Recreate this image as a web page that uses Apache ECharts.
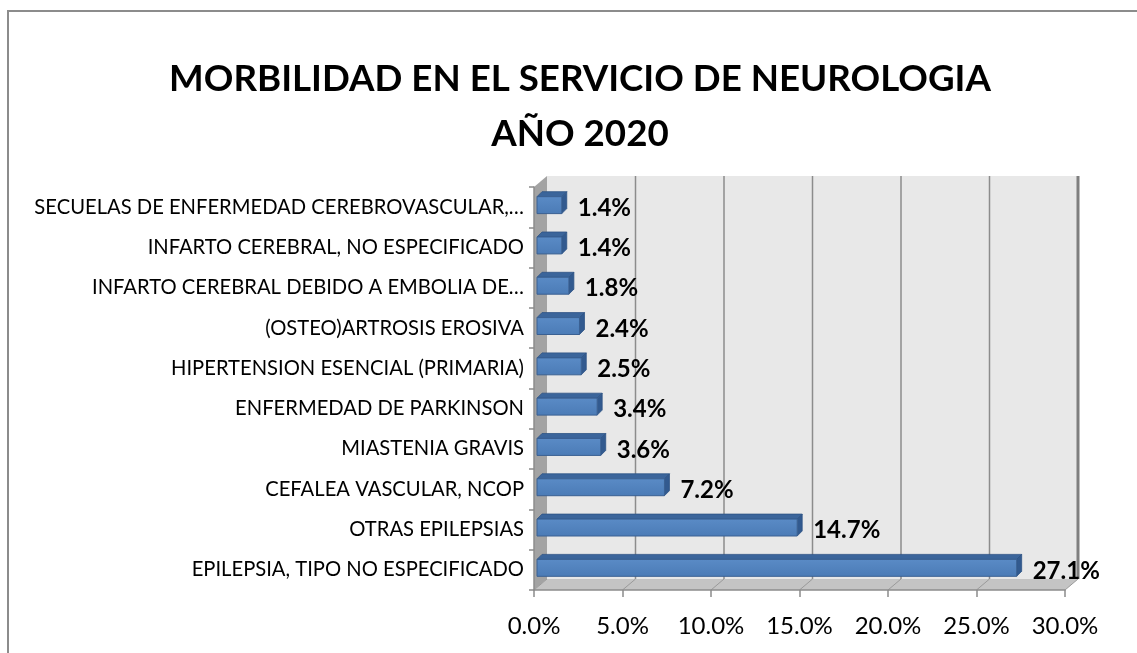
<!DOCTYPE html>
<html>
<head>
<meta charset="utf-8">
<script src="https://cdn.jsdelivr.net/npm/echarts@6.0.0/dist/echarts.min.js"></script>
<style>
  html, body { margin: 0; padding: 0; background: #fff; }
  #main { width: 1137px; height: 653px; }
</style>
</head>
<body>
<div id="main"></div>
<script>
// categorias de abajo hacia arriba
const categorias = [
  'EPILEPSIA, TIPO NO ESPECIFICADO',
  'OTRAS EPILEPSIAS',
  'CEFALEA VASCULAR, NCOP',
  'MIASTENIA GRAVIS',
  'ENFERMEDAD DE PARKINSON',
  'HIPERTENSION ESENCIAL (PRIMARIA)',
  '(OSTEO)ARTROSIS EROSIVA',
  'INFARTO CEREBRAL DEBIDO A EMBOLIA DE…',
  'INFARTO CEREBRAL, NO ESPECIFICADO',
  'SECUELAS DE ENFERMEDAD CEREBROVASCULAR,…'
];
const porcentajes = [27.1, 14.7, 7.2, 3.6, 3.4, 2.5, 2.4, 1.8, 1.4, 1.4];
const ticksX = [0, 5, 10, 15, 20, 25, 30];

const FONT = 'Lato, "Open Sans", sans-serif';
// profundidad de la caja 3D
const DX = 13, DY = -11;

const chart = echarts.init(document.getElementById('main'));

// paredes, piso y lineas de la cuadricula
function renderCaja(params, api) {
  const bw = api.size([0, 1])[1];
  const yBot = api.coord([0, 0])[1] + bw / 2;
  const yTop = api.coord([0, categorias.length - 1])[1] - bw / 2;
  const x0 = api.coord([ticksX[0], 0])[0];
  const x1 = api.coord([ticksX[ticksX.length - 1], 0])[0];
  const kids = [];
  // pared del fondo
  kids.push({
    type: 'rect',
    shape: { x: x0 + DX, y: yTop + DY, width: x1 - x0, height: yBot - yTop },
    style: { fill: '#e8e8e8' }
  });
  // pared izquierda
  kids.push({
    type: 'polygon',
    shape: { points: [[x0, yTop], [x0 + DX, yTop + DY], [x0 + DX, yBot + DY], [x0, yBot]] },
    style: { fill: '#a3a3a3' }
  });
  // piso
  kids.push({
    type: 'polygon',
    shape: { points: [[x0, yBot], [x0 + DX, yBot + DY], [x1 + DX, yBot + DY], [x1, yBot]] },
    style: { fill: '#c4c4c4' }
  });
  ticksX.forEach(function (t, i) {
    const x = api.coord([t, 0])[0];
    if (i > 0) {
      kids.push({
        type: 'line',
        shape: { x1: x + DX, y1: yTop + DY, x2: x + DX, y2: yBot + DY },
        style: { stroke: i === ticksX.length - 1 ? '#7f7f7f' : '#8c8c8c', lineWidth: i === ticksX.length - 1 ? 3 : 1.5 }
      });
    }
    kids.push({
      type: 'line',
      shape: { x1: x, y1: yBot, x2: x + DX, y2: yBot + DY },
      style: { stroke: '#9a9a9a', lineWidth: 1 }
    });
  });
  return { type: 'group', children: kids };
}

// barras 3D con etiqueta
function renderBarra(params, api) {
  const idx = api.value(0);
  const val = api.value(1);
  const bw = api.size([0, 1])[1];
  const c = api.coord([0, idx]);
  const e = api.coord([val, idx]);
  const h = bw * 0.42;
  const ox = 3, oy = -2;
  const d = 5;
  const xa = c[0] + ox, xb = e[0] + ox;
  const ya = c[1] - h / 2 + oy, yb = ya + h;
  return {
    type: 'group',
    children: [
      {
        type: 'polygon',
        shape: { points: [[xa, ya], [xa + d, ya - d], [xb + d, ya - d], [xb, ya]] },
        style: { fill: '#3b659b', stroke: '#2e5485', lineWidth: 0.8 }
      },
      {
        type: 'polygon',
        shape: { points: [[xb, ya], [xb + d, ya - d], [xb + d, yb - d], [xb, yb]] },
        style: { fill: '#325a8f', stroke: '#2e5485', lineWidth: 0.8 }
      },
      {
        type: 'rect',
        shape: { x: xa, y: ya, width: xb - xa, height: h },
        style: {
          fill: new echarts.graphic.LinearGradient(0, 0, 0, 1, [
            { offset: 0, color: '#5a8bc6' },
            { offset: 1, color: '#4b7bb6' }
          ]),
          stroke: '#3a6092', lineWidth: 1
        }
      },
      {
        type: 'text',
        x: xb + 16,
        y: c[1] + 1,
        style: {
          text: val.toFixed(1) + '%',
          fill: '#000',
          font: 'bold 24px ' + FONT,
          verticalAlign: 'middle',
          align: 'left'
        }
      }
    ]
  };
}

chart.setOption({
  animation: false,
  title: {
    text: 'MORBILIDAD EN EL SERVICIO DE NEUROLOGIA\nAÑO 2020',
    left: 575,
    top: 47,
    textAlign: 'center',
    textStyle: { fontFamily: FONT, fontWeight: 'bold', fontSize: 36.7, lineHeight: 55, color: '#000' }
  },
  graphic: [{
    type: 'rect',
    shape: { x: 8, y: 11, width: 1300, height: 800 },
    style: { fill: 'none', stroke: '#8c8c8c', lineWidth: 2 },
    silent: true
  }],
  grid: { left: 534, right: 72, top: 187, bottom: 63 },
  xAxis: {
    type: 'value',
    min: 0, max: 30, interval: 5,
    z: 5,
    axisLine: { show: true, lineStyle: { color: '#8c8c8c', width: 1.5 } },
    axisTick: { show: true, length: 7, lineStyle: { color: '#8c8c8c', width: 1.5 } },
    splitLine: { show: false },
    axisLabel: {
      margin: 24,
      formatter: function (v) { return v.toFixed(1) + '%'; },
      color: '#000', fontFamily: FONT, fontSize: 24
    }
  },
  yAxis: {
    type: 'category',
    data: categorias,
    z: 5,
    axisLine: { show: true, lineStyle: { color: '#8c8c8c', width: 1.5 } },
    axisTick: { show: true, length: 5, lineStyle: { color: '#8c8c8c', width: 1.5 } },
    axisLabel: { margin: 10, color: '#000', fontFamily: FONT, fontSize: 20.2 }
  },
  series: [
    {
      type: 'custom',
      z: 1,
      silent: true,
      renderItem: renderCaja,
      data: [[0, 0]]
    },
    {
      type: 'custom',
      z: 3,
      renderItem: renderBarra,
      encode: { x: 1, y: 0 },
      data: porcentajes.map(function (v, i) { return [i, v]; })
    }
  ]
});
</script>
</body>
</html>
